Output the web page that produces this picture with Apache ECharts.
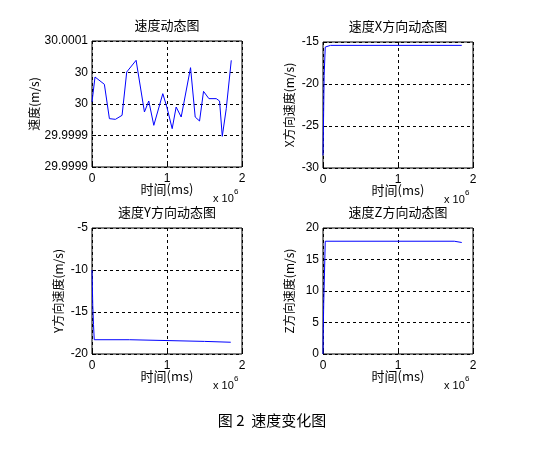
<!DOCTYPE html>
<html>
<head>
<meta charset="utf-8">
<script src="https://cdn.jsdelivr.net/npm/echarts@6/dist/echarts.min.js"></script>
<style>
  html, body { margin: 0; padding: 0; background: #fff; }
  #chart { width: 545px; height: 453px; }
</style>
</head>
<body>
<div id="chart"></div>
<script>
// 速度 (m/s)
const speedData = [
  [0, 29.9999838], [40000, 30.0000314], [165000, 30.0000175], [232000, 29.9999521],
  [312000, 29.9999508], [401000, 29.9999584], [463000, 30.0000410], [588000, 30.0000632],
  [699000, 29.9999648], [757000, 29.9999857], [824000, 29.9999394], [944000, 29.9999997],
  [998000, 29.9999743], [1069000, 29.9999330], [1122000, 29.9999743], [1189000, 29.9999552],
  [1314000, 30.0000492], [1376000, 29.9999552], [1434000, 29.9999476], [1487000, 30.0000041],
  [1559000, 29.9999902], [1657000, 29.9999902], [1701000, 29.9999857], [1737000, 29.9999184],
  [1790000, 29.9999711], [1857000, 30.0000632],
];
const vxData = [
  [0, -28.5], [5000, -25.6], [10000, -22.3], [15000, -19], [25000, -18.8],
  [30000, -15.6], [100000, -15.4], [1850000, -15.4],
];
const vyData = [
  [0, -10], [5000, -12], [10000, -14.2], [20000, -16.5], [30000, -18.3],
  [500000, -18.3], [500000, -18.5], [1500000, -18.5], [1500000, -18.6], [1850000, -18.6],
];
const vzData = [
  [0, 0], [3000, 3.5], [10000, 8.3], [20000, 13], [30000, 17.9],
  [1750000, 17.9], [1760000, 17.7], [1850000, 17.7],
];
const speedTicks = ['29.9999', '29.9999', '30', '30', '30.0001'];

const font = 'Liberation Sans, Arial, Noto Sans CJK SC, sans-serif';
const cjk = 'Noto Sans CJK SC, sans-serif';

const panels = [
  { title: '速度动态图', yName: '速度(m/s)', data: speedData, min: 29.99986, max: 30.0001, interval: 0.00006,
    fmt: (v, i) => speedTicks[i], left: 92, top: 41 },
  { title: '速度X方向动态图', yName: 'X方向速度(m/s)', data: vxData, min: -30, max: -15, interval: 5, left: 323, top: 42 },
  { title: '速度Y方向动态图', yName: 'Y方向速度(m/s)', data: vyData, min: -20, max: -5, interval: 5, left: 92, top: 228 },
  { title: '速度Z方向动态图', yName: 'Z方向速度(m/s)', data: vzData, min: 0, max: 20, interval: 5, left: 323, top: 228 },
];

const grid = [], xAxis = [], yAxis = [], series = [], graphic = [];
const W = 150, H = 126;
const dash = { show: true, lineStyle: { color: '#000', type: [3, 3], width: 1 } };
panels.forEach((p, i) => {
  grid.push({ left: p.left, top: p.top, width: W, height: H, show: true, borderColor: '#000', borderWidth: 1 });
  xAxis.push({
    gridIndex: i, type: 'value', min: 0, max: 2000000, interval: 1000000,
    axisLine: { show: false }, axisTick: { inside: true, length: 4, lineStyle: { color: '#000' } },
    axisLabel: { color: '#000', fontFamily: font, fontSize: 12, margin: 6, formatter: v => String(v / 1000000) },
    splitLine: dash,
  });
  yAxis.push({
    gridIndex: i, type: 'value', min: p.min, max: p.max, interval: p.interval,
    name: p.yName, nameLocation: 'middle', nameGap: i === 0 ? 47 : 28, nameRotate: 90,
    nameTextStyle: { color: '#000', fontFamily: cjk, fontSize: 12 },
    axisLine: { show: false }, axisTick: { inside: true, length: 4, lineStyle: { color: '#000' } },
    axisLabel: { color: '#000', fontFamily: font, fontSize: 12, margin: 4, formatter: p.fmt || (v => String(v)) },
    splitLine: dash,
  });
  series.push({
    type: 'line', xAxisIndex: i, yAxisIndex: i, data: p.data, showSymbol: false,
    lineStyle: { color: '#0000ff', width: 1 }, animation: false,
  });
  const cx = p.left + W / 2;
  graphic.push(
    { type: 'text', x: cx, y: p.top - 22, style: { text: p.title, font: '13px ' + cjk, fill: '#000', align: 'center' } },
    { type: 'text', x: cx, y: p.top + H + 16, style: { text: '时间(ms)', font: '13px ' + cjk, fill: '#000', align: 'center' } },
    { type: 'text', x: p.left + W - 29, y: p.top + H + 26, style: { text: 'x 10', font: '11px ' + font, fill: '#000' } },
    { type: 'text', x: p.left + W - 8, y: p.top + H + 21, style: { text: '6', font: '8px ' + font, fill: '#000' } },
  );
});
graphic.push({ type: 'text', x: 272, y: 413, style: { text: '图 2  速度变化图', font: '15px ' + cjk, fill: '#000', align: 'center' } });

const chart = echarts.init(document.getElementById('chart'));
chart.setOption({ animation: false, grid, xAxis, yAxis, series, graphic });
</script>
</body>
</html>
